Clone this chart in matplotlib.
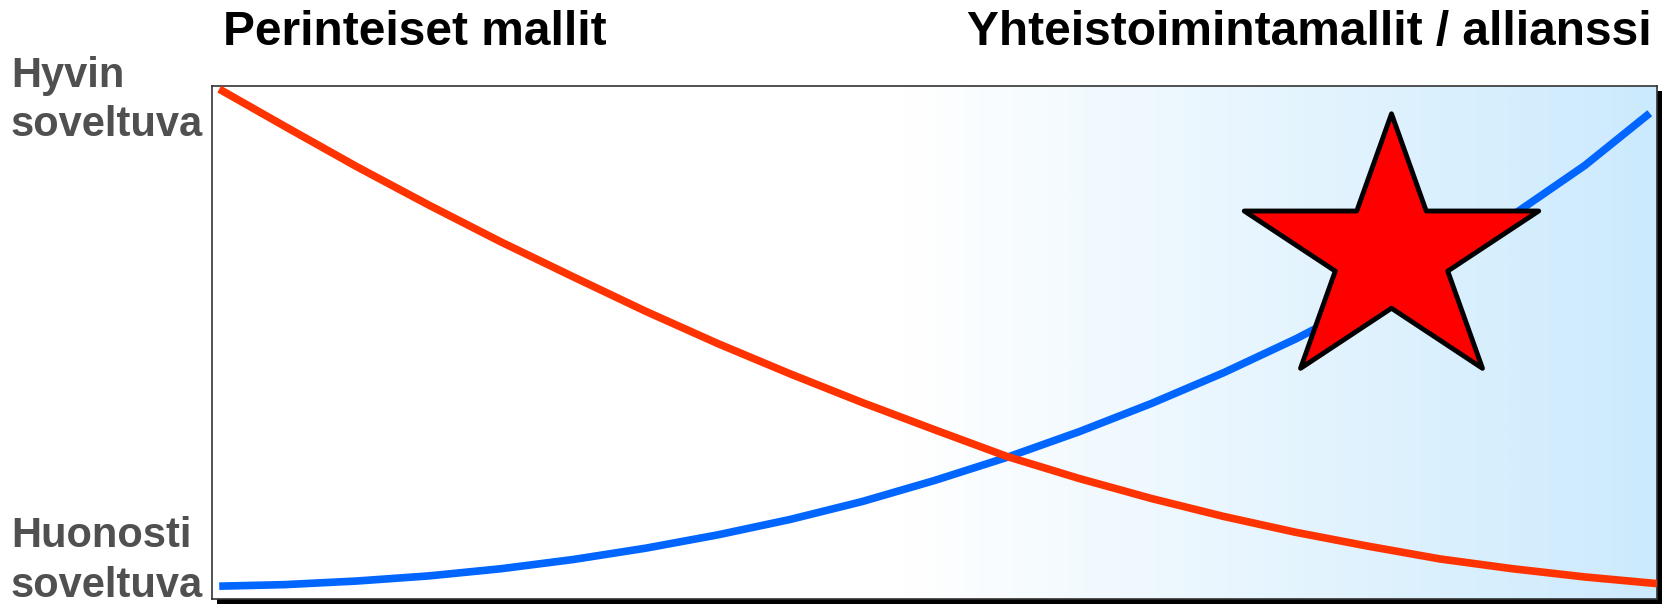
import numpy as np
import matplotlib
matplotlib.use("Agg")
import matplotlib.pyplot as plt
from matplotlib.colors import LinearSegmentedColormap
from matplotlib.markers import MarkerStyle
from matplotlib.patches import Rectangle
from matplotlib.path import Path
from matplotlib.transforms import Affine2D, ScaledTranslation

plt.rcParams['font.family'] = ['Liberation Sans', 'DejaVu Sans']

# values (0 = huonosti, 1 = hyvin soveltuva)
trad_x = [0.005, 0.05, 0.10, 0.15, 0.20, 0.25, 0.30, 0.35, 0.40, 0.45, 0.50,
          0.55, 0.60, 0.65, 0.70, 0.75, 0.80, 0.85, 0.90, 0.95, 1.0]
trad_y = [0.994, 0.922, 0.843, 0.768, 0.696, 0.628, 0.561, 0.498, 0.439, 0.383, 0.330,
          0.278, 0.235, 0.196, 0.161, 0.130, 0.103, 0.078, 0.059, 0.043, 0.030]

alli_x = [0.005, 0.05, 0.10, 0.15, 0.20, 0.25, 0.30, 0.35, 0.40, 0.45, 0.50,
          0.55, 0.60, 0.65, 0.70, 0.75, 0.80, 0.85, 0.90, 0.95, 0.995]
alli_y = [0.025, 0.028, 0.035, 0.045, 0.059, 0.077, 0.099, 0.125, 0.155, 0.190, 0.231,
          0.276, 0.326, 0.381, 0.441, 0.507, 0.580, 0.660, 0.748, 0.845, 0.947]

star_x = [0.816]
star_y = [0.673]

titles = ["Perinteiset mallit", "Yhteistoimintamallit / allianssi"]
y_labels = ["Hyvin", "soveltuva", "Huonosti", "soveltuva"]

W, H = 1666, 604
fig = plt.figure(figsize=(W / 100, H / 100), dpi=100)
ax = fig.add_axes([212 / W, 5 / H, 1445 / W, 513 / H])

# drop shadow behind the box
shadow_off = ScaledTranslation(5 / 100, -5 / 100, fig.dpi_scale_trans)
shadow = Rectangle((212 / W, 5 / H), 1445 / W, 513 / H, facecolor="black",
                   edgecolor="none", transform=fig.transFigure + shadow_off, zorder=-1)
fig.patches.append(shadow)

# background gradient white -> light blue
cmap = LinearSegmentedColormap.from_list("bg", [(0, "white"), (0.48, "white"), (1, "#CCEAFD")])
ax.imshow(np.linspace(0, 1, 512)[None, :], cmap=cmap, extent=[0, 1, 0, 1],
          aspect="auto", zorder=0, interpolation="bilinear")

ax.plot(alli_x, alli_y, color="#0066FF", lw=5.5, solid_capstyle="butt",
        solid_joinstyle="round", zorder=2)
ax.plot(trad_x, trad_y, color="#FF3300", lw=5.5, solid_capstyle="butt",
        solid_joinstyle="round", zorder=3)

# star (slightly wider than a regular star)
star = Path.unit_regular_star(5, 0.381966)
star = star.transformed(Affine2D().scale(1.1, 1.0))
ax.plot(star_x, star_y, linestyle="none",
        marker=MarkerStyle(star, joinstyle="miter"), markersize=212,
        markerfacecolor="#FF0000", markeredgecolor="black", markeredgewidth=3.5, zorder=4)

ax.set_xlim(0, 1)
ax.set_ylim(0, 1)
ax.set_xticks([])
ax.set_yticks([])
for s in ax.spines.values():
    s.set_color("#333333")
    s.set_linewidth(1.2)

fig.text(223 / W, 1 - 45 / H, titles[0], fontsize=34.5, fontweight="bold",
         color="black", ha="left", va="baseline")
fig.text(1652 / W, 1 - 45 / H, titles[1], fontsize=34.5, fontweight="bold",
         color="black", ha="right", va="baseline")

for lab, base in zip(y_labels, [87, 136, 547, 597]):
    fig.text(11 / W, 1 - base / H, lab, fontsize=30, fontweight="bold",
             color="#505050", ha="left", va="baseline")

fig.savefig("out.png", dpi=100)
